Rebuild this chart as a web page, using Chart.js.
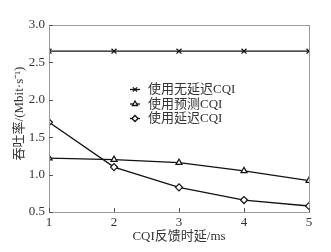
<!DOCTYPE html>
<html><head><meta charset="utf-8">
<script src="https://cdn.jsdelivr.net/npm/chart.js@4"></script>
<style>html,body{margin:0;padding:0;background:#fff;}#wrap{width:331px;height:252px;}</style>
</head><body><div id="wrap"><canvas id="c" width="331" height="252"></canvas></div>
<script>
const delays = [1, 2, 3, 4, 5];
const noDelay = [2.65, 2.65, 2.65, 2.65, 2.65];
const predicted = [1.22, 1.20, 1.16, 1.05, 0.92];
const delayed = [1.70, 1.10, 0.83, 0.66, 0.58];
const seriesLabels = ['使用无延迟CQI', '使用预测CQI', '使用延迟CQI'];
const yTicks = [0.5, 1.0, 1.5, 2.0, 2.5, 3.0];
const xTitle = 'CQI反馈时延/ms';
const yTitle = '吞吐率/(Mbit·s⁻¹)';

const FONT = "'Liberation Serif','Noto Sans CJK SC',serif";
const AXIS = '#9a9a9a';
const TXT = '#333';

function pts(arr){ return arr.map((v,i)=>({x:delays[i], y:v})); }

const styles = [
  {pointStyle:'crossRot', radius:3.5, fill:'#111'},
  {pointStyle:'triangle', radius:3.5, fill:'#fff'},
  {pointStyle:'rectRot', radius:3.5, fill:'#fff'}
];

const legendPlugin = {
  id:'customLegend',
  afterDatasetsDraw(chart){
    const ctx = chart.ctx;
    const x0 = 130, x1 = 140, tx = 148;
    const ys = [89.5, 104, 118.5];
    ctx.save();
    chart.data.datasets.forEach((ds,i)=>{
      const y = ys[i];
      ctx.strokeStyle = '#111'; ctx.lineWidth = 1.3;
      ctx.beginPath(); ctx.moveTo(x0,y); ctx.lineTo(x1,y); ctx.stroke();
      ctx.fillStyle = ds.pointBackgroundColor;
      Chart.helpers.drawPoint(ctx, {pointStyle:ds.pointStyle, radius:3, borderWidth:1.2, rotation:0}, (x0+x1)/2, y);
      ctx.fillStyle = TXT;
      ctx.font = "13px " + FONT;
      ctx.textBaseline = 'middle';
      ctx.textAlign = 'left';
      ctx.fillText(ds.label, tx, y+0.5);
    });
    ctx.restore();
  }
};

const frameTicks = {
  id:'frameTicks',
  afterDraw(chart){
    const {ctx, chartArea:a, scales:{x,y}} = chart;
    ctx.save();
    ctx.strokeStyle = AXIS; ctx.lineWidth = 1;
    ctx.strokeRect(a.left+0.5, a.top+0.5, a.right-a.left, a.bottom-a.top);
    ctx.strokeStyle = '#555';
    delays.forEach(v=>{
      const px = Math.round(x.getPixelForValue(v))+0.5;
      ctx.beginPath(); ctx.moveTo(px, a.bottom); ctx.lineTo(px, a.bottom-4); ctx.stroke();
    });
    yTicks.forEach(v=>{
      const py = Math.round(y.getPixelForValue(v))+0.5;
      ctx.beginPath(); ctx.moveTo(a.left, py); ctx.lineTo(a.left+4, py); ctx.stroke();
    });
    ctx.fillStyle = TXT;
    ctx.font = "13px " + FONT;
    ctx.textAlign = 'center'; ctx.textBaseline = 'middle';
    ctx.fillText(xTitle, (a.left+a.right)/2, 237);
    ctx.translate(20, (a.top+a.bottom)/2 - 5);
    ctx.rotate(-Math.PI/2);
    ctx.fillText(yTitle, 0, 0);
    ctx.restore();
  }
};

const mk = (label, data, s) => ({
  label, data: pts(data),
  borderColor:'#111', borderWidth:1.3,
  pointStyle:s.pointStyle, pointRadius:s.radius, pointBorderWidth:1.2,
  pointBackgroundColor:s.fill, pointBorderColor:'#111',
  fill:false, tension:0
});

new Chart(document.getElementById('c'), {
  type:'line',
  data:{ datasets:[
    mk(seriesLabels[0], noDelay, styles[0]),
    mk(seriesLabels[1], predicted, styles[1]),
    mk(seriesLabels[2], delayed, styles[2])
  ]},
  options:{
    responsive:false, animation:false, devicePixelRatio:1,
    layout:{padding:{top:25, right:22, left:0, bottom:0}},
    plugins:{legend:{display:false}, tooltip:{enabled:false}},
    scales:{
      x:{type:'linear', min:1, max:5,
        afterBuildTicks(s){ s.ticks = delays.map(v=>({value:v})); },
        afterFit(s){ s.height = 40; },
        grid:{display:false, drawTicks:false},
        border:{display:false},
        ticks:{color:TXT, font:{family:FONT, size:13}, padding:3, maxRotation:0,
          callback:v=>String(v)},
        title:{display:false}
      },
      y:{min:0.5, max:3.0,
        afterBuildTicks(s){ s.ticks = yTicks.map(v=>({value:v})); },
        afterFit(s){ s.width = 49; },
        grid:{display:false, drawTicks:false},
        border:{display:false},
        ticks:{color:TXT, font:{family:FONT, size:13}, padding:4,
          callback:v=>Number(v).toFixed(1)},
        title:{display:false}
      }
    }
  },
  plugins:[legendPlugin, frameTicks]
});
</script></body></html>
